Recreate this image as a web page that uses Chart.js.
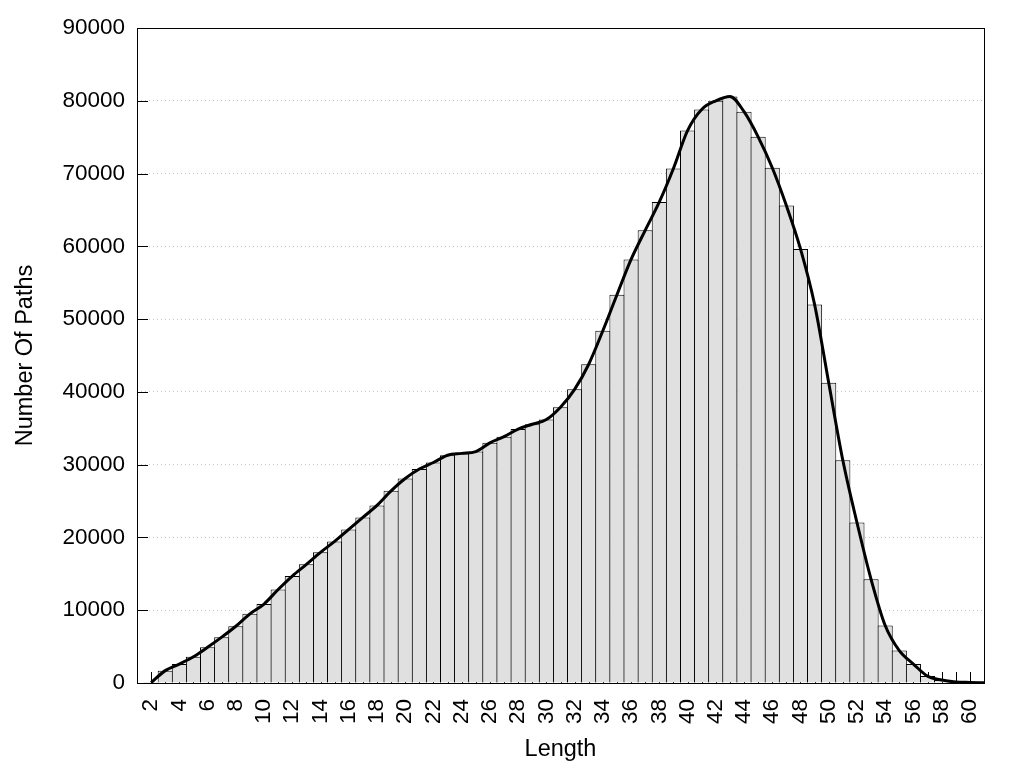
<!DOCTYPE html>
<html lang="en">
  <head>
    <meta charset="UTF-8" />
    <title>Path Length Histogram</title>
    <style>
      body { margin: 0; background: #fff; }
      canvas { display: block; }
    </style>
    <script src="https://cdn.jsdelivr.net/npm/chart.js"></script>
  </head>
  <body>
    <canvas id="histChart" width="1024" height="768"></canvas>
    <script>
      const lengths = [2, 3, 4, 5, 6, 7, 8, 9, 10, 11, 12, 13, 14, 15, 16, 17, 18, 19, 20, 21,
        22, 23, 24, 25, 26, 27, 28, 29, 30, 31, 32, 33, 34, 35, 36, 37, 38, 39, 40, 41,
        42, 43, 44, 45, 46, 47, 48, 49, 50, 51, 52, 53, 54, 55, 56, 57, 58, 59, 60, 61];
      const pathCounts = [50, 1700, 2600, 3600, 4900, 6300, 7800, 9500, 10850, 12850,
        14700, 16300, 17950, 19450, 21100, 22750, 24400, 26400, 28100, 29400,
        30300, 31300, 31550, 31800, 33000, 33850, 34900, 35550, 36200, 37900,
        40350, 43800, 48400, 53350, 58200, 62200, 66100, 70700, 75900, 78800,
        80000, 80600, 78500, 75050, 70800, 65600, 59650, 52000, 41250, 30600,
        22050, 14250, 7900, 4450, 2600, 950, 400, 150, 80, 30];
      const yTicks = [0, 10000, 20000, 30000, 40000, 50000, 60000, 70000, 80000, 90000];

      const points = lengths.map((x, i) => ({ x: x, y: pathCounts[i] }));
      const font = "'Liberation Sans', Arial, sans-serif";

      // gnuplot style: ticks pointing into the plot, drawn under the boxes
      const innerTicks = {
        id: "innerTicks",
        beforeDatasetsDraw(chart) {
          const { ctx, chartArea: a, scales } = chart;
          ctx.save();
          ctx.strokeStyle = "#000";
          ctx.lineWidth = 1;
          ctx.beginPath();
          scales.x.ticks.forEach(t => {
            const px = Math.round(scales.x.getPixelForValue(t.value)) + 0.5;
            ctx.moveTo(px, a.bottom);
            ctx.lineTo(px, a.bottom - 11);
          });
          yTicks.forEach(v => {
            const py = Math.round(scales.y.getPixelForValue(v)) + 0.5;
            ctx.moveTo(a.left, py);
            ctx.lineTo(a.left + 11, py);
          });
          ctx.stroke();
          ctx.restore();
        },
        afterDatasetsDraw(chart) {
          const { ctx, chartArea: a } = chart;
          ctx.save();
          ctx.strokeStyle = "#000";
          ctx.lineWidth = 1;
          ctx.strokeRect(Math.round(a.left) + 0.5, Math.round(a.top) + 0.5,
            Math.round(a.right - a.left), Math.round(a.bottom - a.top));
          ctx.restore();
        }
      };

      new Chart(document.getElementById("histChart"), {
        type: "bar",
        data: {
          datasets: [
            {
              type: "line",
              data: points,
              borderColor: "#000",
              borderWidth: 3,
              pointRadius: 0,
              fill: false,
              cubicInterpolationMode: "monotone",
              order: 0
            },
            {
              type: "bar",
              data: points,
              backgroundColor: "#e0e0e0",
              borderColor: "#000",
              borderWidth: 1,
              // slightly wider than one step so neighbouring outlines overlap into a single line
              barPercentage: 1.07,
              categoryPercentage: 1,
              order: 1
            }
          ]
        },
        options: {
          responsive: false,
          animation: false,
          layout: { padding: { left: 0, right: 40, top: 28, bottom: 0 } },
          plugins: { legend: { display: false }, tooltip: { enabled: false } },
          scales: {
            x: {
              type: "linear",
              min: 1,
              max: 61,
              offset: false,
              afterFit: s => { s.height = 85; },
              grid: { display: false, offset: false },
              border: { display: false },
              ticks: {
                stepSize: 1,
                autoSkip: false,
                minRotation: 90,
                maxRotation: 90,
                padding: 8,
                color: "#000",
                font: { family: font, size: 22.5 },
                callback: v => (v % 2 === 0 ? String(v) : "")
              },
              title: {
                display: true,
                text: "Length",
                color: "#000",
                font: { family: font, size: 23.5 },
                padding: { top: 0, bottom: 4 }
              }
            },
            y: {
              min: 0,
              max: 90000,
              afterFit: s => { s.width = 137; },
              grid: {
                drawTicks: false,
                color: c => (c.tick && (c.tick.value === 0 || c.tick.value === 90000) ? "rgba(0,0,0,0)" : "#c8c8c8")
              },
              border: { display: false, dash: [1, 3] },
              ticks: {
                stepSize: 10000,
                padding: 12,
                color: "#000",
                font: { family: font, size: 22.5 },
                callback: v => String(v)
              },
              title: {
                display: true,
                text: "Number Of Paths",
                color: "#000",
                font: { family: font, size: 23.5 },
                padding: { top: 11, bottom: 0 }
              }
            }
          }
        },
        plugins: [innerTicks]
      });
    </script>
  </body>
</html>
